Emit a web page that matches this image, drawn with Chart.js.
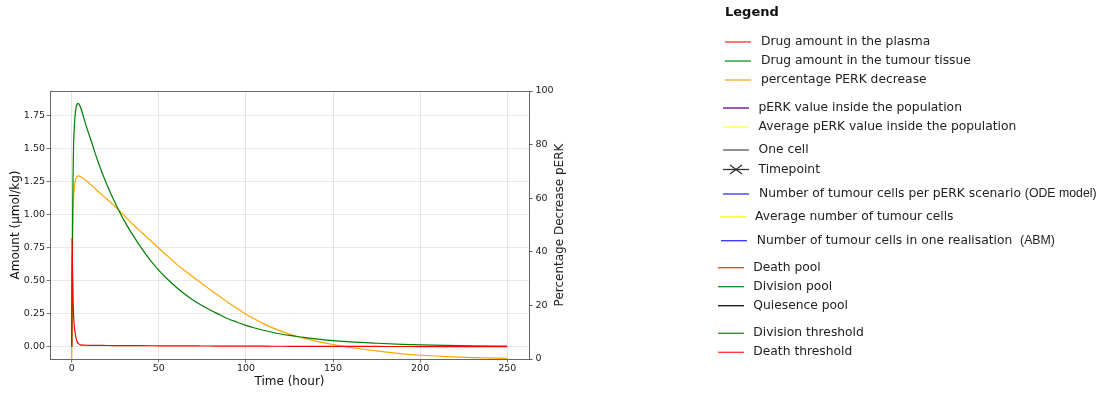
<!DOCTYPE html>
<html>
<head>
<meta charset="utf-8">
<script src="https://cdn.jsdelivr.net/npm/chart.js@4.4.1/dist/chart.umd.min.js"></script>
<style>
  html, body { margin: 0; padding: 0; background: #fff; }
</style>
</head>
<body>
<canvas id="pk-chart" width="1103" height="394"></canvas>
<script>
// data
const timeHours = [0, 0.15, 0.3, 0.5, 0.75, 1, 1.5, 2, 2.5, 3, 3.5, 4, 5, 6, 8, 10, 12, 15, 20, 25, 30, 35, 40, 45, 50,
  55, 60, 65, 70, 75, 80, 85, 90, 95, 100, 105, 110, 115, 120, 125, 130, 135, 140, 145, 150,
  160, 175, 190, 200, 215, 230, 250];
const plasmaAmount = [0, 0.82, 0.7, 0.52, 0.36, 0.25, 0.15, 0.1, 0.065, 0.042, 0.03, 0.022, 0.015, 0.013, 0.012, 0.0115, 0.011, 0.0105, 0.01, 0.0095, 0.009, 0.0087, 0.0083, 0.008, 0.0077,
  0.0073, 0.007, 0.0067, 0.0065, 0.0062, 0.006, 0.0057, 0.0055, 0.0052, 0.005, 0.0048, 0.0046, 0.0044, 0.0042, 0.004, 0.0039, 0.0037, 0.0036, 0.0034, 0.0033,
  0.003, 0.0027, 0.0024, 0.0022, 0.002, 0.0018, 0.0016];
const tumourAmount = [0, 0.25, 0.55, 1.0, 1.3, 1.5, 1.67, 1.76, 1.81, 1.83, 1.838, 1.835, 1.81, 1.77, 1.68, 1.6, 1.52, 1.4, 1.23, 1.085, 0.955, 0.845, 0.745, 0.655, 0.578,
  0.51, 0.45, 0.397, 0.35, 0.31, 0.274, 0.242, 0.21, 0.186, 0.162, 0.142, 0.125, 0.11, 0.097, 0.086, 0.076, 0.068, 0.06, 0.053, 0.047,
  0.037, 0.027, 0.019, 0.015, 0.011, 0.008, 0.005];
const perkDecrease = [0, 18, 33, 48, 55, 60, 64, 66.3, 67.4, 68, 68.3, 68.3, 68, 67.6, 66.7, 65.6, 64.5, 62.6, 59.8, 56.8, 53.6, 50.3, 47.3, 44.3, 41.3,
  38.4, 35.5, 32.9, 30.4, 28.0, 25.6, 23.3, 21, 18.8, 16.7, 14.9, 13.2, 11.7, 10.4, 9.3, 8.3, 7.5, 6.7, 6.0, 5.4,
  4.3, 3.0, 1.9, 1.4, 0.9, 0.5, 0.2];

const xTicks = [0, 50, 100, 150, 200, 250];
const yTicks = [0, 0.25, 0.5, 0.75, 1, 1.25, 1.5, 1.75];
const y2Ticks = [0, 20, 40, 60, 80, 100];

const legendLabels = [
  "Drug amount in the plasma", "Drug amount in the tumour tissue", "percentage PERK decrease",
  "pERK value inside the population", "Average pERK value inside the population",
  "One cell", "Timepoint",
  "Number of tumour cells per pERK scenario", "Average number of tumour cells", "Number of tumour cells in one realisation ",
  "Death pool", "Division pool", "Quiesence pool",
  "Division threshold", "Death threshold"
];
const legendSuffix = ["", "", "", "", "", "", "", "(ODE model)", "", "(ABM)", "", "", "", "", ""];
const legendColors = ["#ff3333", "#1a8f1a", "#ffa726", "#a35cb5", "#ffff33", "#555555", "#333333",
  "#3333ff", "#ffff33", "#3333ff", "#ff3333", "#1a8f1a", "#111111", "#2e8b2e", "#ff3333"];

// legend layout: line start x, text x, row centre y
const legendRows = [
  [725, 761, 42], [725, 761, 61], [725, 761, 80],
  [723, 758.5, 108], [723, 758.5, 127],
  [723, 758.5, 150], [723, 758.5, 169.5],
  [723, 759, 194], [720, 755, 216.7], [721, 756.7, 240.7],
  [718, 753.3, 267.7], [718, 753.3, 286.7], [718, 753.3, 305.7],
  [718, 753.3, 333.3], [718, 753.3, 352.3]
];

const toPoints = (values) => timeHours.map((t, i) => ({ x: t, y: values[i] }));

const tickFont = { family: "DejaVu Sans", size: 9.5 };
const titleFont = { family: "DejaVu Sans", size: 12 };

// frame, right axis title and the side legend
const extrasPlugin = {
  id: "extras",
  beforeDatasetsDraw(chart) {
    const { ctx, chartArea: a } = chart;
    ctx.save();
    ctx.strokeStyle = "#666";
    ctx.lineWidth = 1;
    ctx.strokeRect(a.left + 0.5, a.top + 0.5, a.right - a.left, a.bottom - a.top);
    ctx.restore();
  },
  afterDraw(chart) {
    const { ctx, chartArea: a } = chart;
    ctx.save();
    ctx.fillStyle = "#222";
    ctx.font = "12px 'DejaVu Sans'";
    ctx.translate(560, (a.top + a.bottom) / 2);
    ctx.rotate(-Math.PI / 2);
    ctx.textAlign = "center";
    ctx.textBaseline = "middle";
    ctx.fillText("Percentage Decrease pERK", 0, 0);
    ctx.restore();

    ctx.save();
    ctx.fillStyle = "#111";
    ctx.font = "bold 13px 'DejaVu Sans'";
    ctx.textBaseline = "middle";
    ctx.fillText("Legend", 725, 13);
    legendLabels.forEach((label, i) => {
      const [lx, tx, cy] = legendRows[i];
      ctx.strokeStyle = legendColors[i];
      ctx.lineWidth = i === 3 ? 2 : 1.3;
      ctx.beginPath();
      ctx.moveTo(lx, cy);
      ctx.lineTo(lx + 26, cy);
      ctx.stroke();
      if (label === "Timepoint") {
        ctx.beginPath();
        ctx.moveTo(lx + 7, cy - 4.5);
        ctx.lineTo(lx + 19, cy + 4.5);
        ctx.moveTo(lx + 7, cy + 4.5);
        ctx.lineTo(lx + 19, cy - 4.5);
        ctx.stroke();
      }
      ctx.fillStyle = "#222";
      ctx.font = "12.3px 'DejaVu Sans'";
      ctx.fillText(label, tx, cy);
      if (legendSuffix[i]) {
        const w = ctx.measureText(label + " ").width;
        ctx.font = "12.3px 'Liberation Sans'";
        ctx.fillText(legendSuffix[i], tx + w, cy);
      }
    });
    ctx.restore();
  }
};

new Chart(document.getElementById("pk-chart"), {
  type: "line",
  data: {
    datasets: [
      { label: "Drug amount in the plasma", data: toPoints(plasmaAmount), borderColor: "#ff0000", yAxisID: "y" },
      { label: "Drug amount in the tumour tissue", data: toPoints(tumourAmount), borderColor: "#008000", yAxisID: "y" },
      { label: "percentage PERK decrease", data: toPoints(perkDecrease), borderColor: "#ffa500", yAxisID: "y2" }
    ]
  },
  options: {
    responsive: false,
    animation: false,
    devicePixelRatio: 1,
    layout: { padding: { left: 0, top: 91, right: 534, bottom: 0 } },
    elements: {
      point: { radius: 0 },
      line: { borderWidth: 1.2, cubicInterpolationMode: "monotone", fill: false }
    },
    plugins: { legend: { display: false }, tooltip: { enabled: false } },
    scales: {
      x: {
        type: "linear",
        min: -12.5,
        max: 262.5,
        afterBuildTicks: (s) => { s.ticks = xTicks.map((v) => ({ value: v })); },
        afterFit: (s) => { s.height = 35; },
        ticks: { font: tickFont, color: "#222", padding: 0, maxRotation: 0 },
        grid: { color: "#dcdcdc", lineWidth: 0.8, tickLength: 3.5, tickColor: "#555" },
        border: { display: false },
        title: { display: true, text: "Time (hour)", font: titleFont, color: "#111", padding: { top: 0, bottom: 4.8 } }
      },
      y: {
        position: "left",
        min: -0.092,
        max: 1.932,
        afterBuildTicks: (s) => { s.ticks = yTicks.map((v) => ({ value: v })); },
        afterFit: (s) => { s.width = 50; },
        ticks: { font: tickFont, color: "#222", padding: 1.5, callback: (v) => v.toFixed(2) },
        grid: { color: "#e2e2e2", lineWidth: 0.8, tickLength: 3.5, tickColor: "#555" },
        border: { display: false },
        title: { display: true, text: "Amount (µmol/kg)", font: titleFont, color: "#111", padding: { top: 8.8, bottom: 0 } }
      },
      y2: {
        position: "right",
        min: 0,
        max: 100,
        afterBuildTicks: (s) => { s.ticks = y2Ticks.map((v) => ({ value: v })); },
        afterFit: (s) => { s.width = 40; },
        ticks: { font: tickFont, color: "#222", padding: 3 },
        grid: { drawOnChartArea: false, tickLength: 3.5, tickColor: "#555" },
        border: { display: false }
      }
    }
  },
  plugins: [extrasPlugin]
});
</script>
</body>
</html>
